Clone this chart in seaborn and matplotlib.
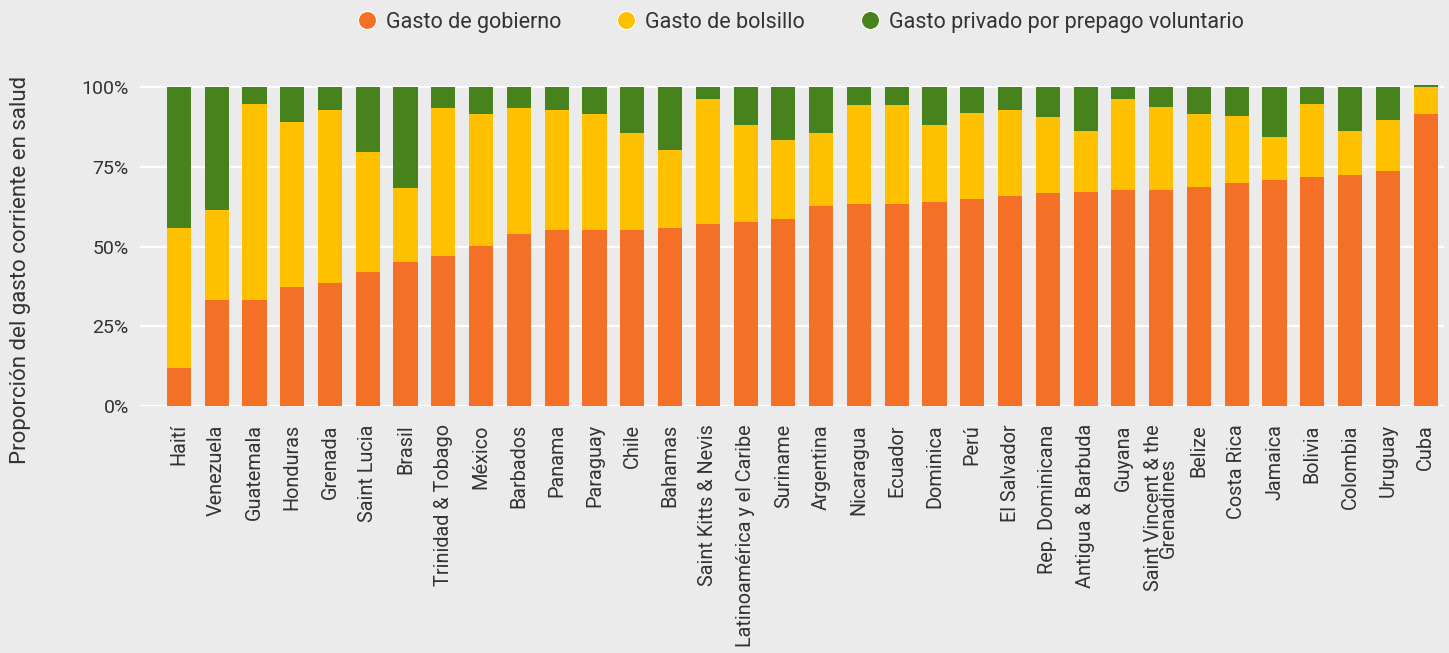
import matplotlib
matplotlib.use("Agg")
import matplotlib.pyplot as plt
from matplotlib.lines import Line2D
from matplotlib.ticker import PercentFormatter
import seaborn as sns
import pandas as pd

# data (% of current health expenditure)
paises = [
    "Haití", "Venezuela", "Guatemala", "Honduras", "Grenada", "Saint Lucia",
    "Brasil", "Trinidad & Tobago", "México", "Barbados", "Panama", "Paraguay",
    "Chile", "Bahamas", "Saint Kitts & Nevis", "Latinoamérica y el Caribe",
    "Suriname", "Argentina", "Nicaragua", "Ecuador", "Dominica", "Perú",
    "El Salvador", "Rep. Dominicana", "Antigua & Barbuda", "Guyana",
    "Saint Vincent & the\nGrenadines", "Belize", "Costa Rica", "Jamaica",
    "Bolivia", "Colombia", "Uruguay", "Cuba",
]
gasto_gobierno = [
    12.0, 33.4, 33.4, 37.3, 38.6, 42.1, 45.2, 47.2, 50.1, 53.9, 55.1, 55.1,
    55.1, 55.7, 57.1, 57.6, 58.6, 62.8, 63.4, 63.4, 63.9, 64.8, 65.8, 66.7,
    67.1, 67.6, 67.6, 68.6, 69.9, 70.9, 71.8, 72.3, 73.8, 91.4,
]
gasto_bolsillo = [
    43.7, 28.2, 61.4, 51.7, 54.3, 37.4, 23.0, 46.1, 41.3, 39.4, 37.8, 36.3,
    30.6, 24.4, 39.0, 30.4, 24.7, 22.9, 30.9, 30.9, 24.1, 27.1, 27.1, 23.8,
    19.0, 28.5, 26.1, 22.8, 21.0, 13.3, 23.0, 13.8, 15.7, 8.6,
]
gasto_privado = [
    44.3, 38.4, 5.2, 11.0, 7.1, 20.5, 31.8, 6.7, 8.6, 6.7, 7.1, 8.6,
    14.3, 19.9, 3.9, 12.0, 16.7, 14.3, 5.7, 5.7, 12.0, 8.1, 7.1, 9.5,
    13.9, 3.9, 6.3, 8.6, 9.1, 15.8, 5.2, 13.9, 10.5, 0.5,
]

series = ["Gasto de gobierno", "Gasto de bolsillo", "Gasto privado por prepago voluntario"]
colores = ["#F37026", "#FFC000", "#47821D"]
bg = "#EBEBEB"
texto = "#333333"

df = pd.DataFrame({
    "pais": paises,
    "gob": gasto_gobierno,
    "bol": gasto_bolsillo,
    "pri": gasto_privado,
})
df["tope_gob"] = df["gob"]
df["tope_bol"] = df["gob"] + df["bol"]
df["tope_pri"] = df["tope_bol"] + df["pri"]

sns.set_theme(style="white")
plt.rcParams["font.family"] = ["Roboto", "DejaVu Sans"]

fig = plt.figure(figsize=(14.49, 6.53), dpi=100, facecolor=bg)
ax = fig.add_axes([0.0966, 0.378, 0.8998, 0.4937])
ax.set_facecolor(bg)

# stacked bars: draw cumulative totals back to front
for col, color in zip(["tope_pri", "tope_bol", "tope_gob"], colores[::-1]):
    sns.barplot(data=df, x="pais", y=col, color=color, saturation=1,
                width=0.64, linewidth=0, errorbar=None, ax=ax)

ax.set_ylim(0, 101)
ax.set_xlim(-1.03, 33.48)
ax.set_yticks([0, 25, 50, 75, 100])
ax.yaxis.set_major_formatter(PercentFormatter(decimals=0))
ax.grid(axis="y", color="white", linewidth=1.6)
ax.set_axisbelow(True)
for s in ax.spines.values():
    s.set_visible(False)
ax.tick_params(axis="both", length=0, colors=texto)
ax.tick_params(axis="y", labelsize=14, pad=8)
ax.tick_params(axis="x", labelsize=14.3, pad=13)
plt.setp(ax.get_xticklabels(), rotation=90, linespacing=0.75)
ax.set_xlabel("")
ax.set_ylabel("")

fig.text(0.014, 1 - 270 / 653, "Proporción del gasto corriente en salud",
         rotation=90, va="center", ha="center", fontsize=16, color=texto)

handles = [Line2D([], [], linestyle="none", marker="o", markersize=13,
                  markerfacecolor=c, markeredgecolor="white", markeredgewidth=0.8)
           for c in colores]
fig.legend(handles, series, loc="center", bbox_to_anchor=(0.552, 0.966), ncol=3,
           frameon=False, fontsize=15.5, handlelength=1, handletextpad=0.4,
           columnspacing=2.5, labelcolor=texto)

fig.savefig("out.png", dpi=100, facecolor=bg)
